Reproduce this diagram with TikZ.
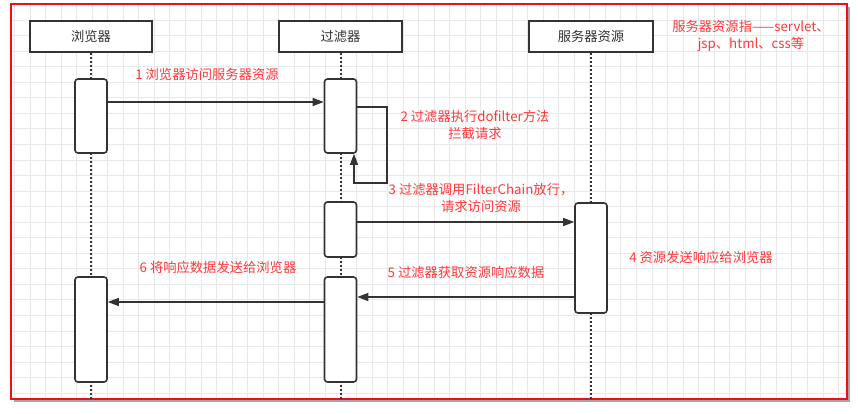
\documentclass[tikz,border=0pt]{standalone}
\usepackage{fontspec}
\setmainfont{Noto Sans CJK SC}
\usetikzlibrary{arrows.meta}
\definecolor{lbl}{HTML}{FF3838}
\definecolor{ink}{HTML}{333333}
\definecolor{gridc}{HTML}{E8E8E8}
\definecolor{frame}{HTML}{EE1111}
\tikzset{
  hdr/.style={draw=ink, line width=1.6pt, fill=white, minimum width=122pt, minimum height=31pt, inner sep=0pt, text=ink, font=\fontsize{13.3}{16}\selectfont},
  act/.style={draw=ink, line width=1.6pt, fill=white, rounded corners=3pt, minimum width=32pt, inner sep=0pt},
  life/.style={ink, line width=2pt, dash pattern=on 2pt off 2pt},
  msg/.style={ink, line width=1.3pt, -{Triangle[length=11pt,width=8pt]}},
  lab/.style={text=lbl, font=\fontsize{13.3}{17}\selectfont, align=center, inner sep=0pt},
  gridline/.style={gridc, line width=1pt}
}
\begin{document}
\begin{tikzpicture}[x=1pt,y=-1pt]
\useasboundingbox (0,0) rectangle (858,413);
% shadow and background
\fill[black!35] (14,7) rectangle (850,402);
\fill[white] (11,4) rectangle (847,399);
\foreach \i in {0,...,53} { \draw[gridline] ({14.45+\i*15.55},4) -- ({14.45+\i*15.55},399); }
\foreach \j in {0,...,25} { \draw[gridline] (11,{4.5+\j*15.55}) -- (847,{4.5+\j*15.55}); }
\draw[frame, line width=1.6pt] (11,4) rectangle (847,399);

% headers
\node[hdr] (hb) at (91,36.5) {浏览器};
\node[hdr, minimum width=123pt] (hf) at (340.5,36.5) {过滤器};
\node[hdr, minimum width=124pt] (hs) at (591,36.5) {服务器资源};

% lifelines
\coordinate (eb) at (91,399);
\coordinate (ef) at (340.5,399);
\coordinate (es) at (591,399);
\draw[life] (hb.south) -- (eb);
\draw[life] (hf.south) -- (ef);
\draw[life] (hs.south) -- (es);

% activations
\node[act, minimum height=74pt] (ba1) at (91,116) {};
\node[act, minimum height=74pt] (fa1) at (340.5,116) {};
\node[act, minimum height=55pt] (fa2) at (340.5,229.5) {};
\node[act, minimum height=110pt] (sa) at (591,258) {};
\node[act, minimum height=105pt] (ba2) at (91,329.5) {};
\node[act, minimum height=105pt] (fa3) at (340.5,329.5) {};

% messages
\draw[msg] (ba1.east |- 0,102) -- (fa1.west |- 0,102);
\coordinate (l2a) at (387,107);
\coordinate (l2b) at (387,183);
\coordinate (l2c) at (354,183);
\draw[msg] (fa1.east |- l2a) -- (l2a) -- (l2b) -- (l2c) -- (l2c |- fa1.south);
\draw[msg] (fa2.east |- 0,222) -- (sa.west |- 0,222);
\draw[msg] (sa.west |- 0,297) -- (fa3.east |- 0,297);
\draw[msg] (fa3.west |- 0,302) -- (ba2.east |- 0,302);

% labels
\node[lab] (t1) at (207,74) {1 浏览器访问服务器资源};
\node[lab] (t2) at (475,124.5) {2 过滤器执行dofilter方法\\拦截请求};
\node[lab] (t3) at (481,198) {3 过滤器调用FilterChain放行，\\请求访问资源};
\node[lab] (t4) at (701,257) {4 资源发送响应给浏览器};
\node[lab] (t5) at (466,272) {5 过滤器获取资源响应数据};
\node[lab] (t6) at (218,267) {6 将响应数据发送给浏览器};
\node[lab] (tn) at (751,36.5) {服务器资源指——servlet、\\jsp、html、css等};
\end{tikzpicture}
\end{document}
